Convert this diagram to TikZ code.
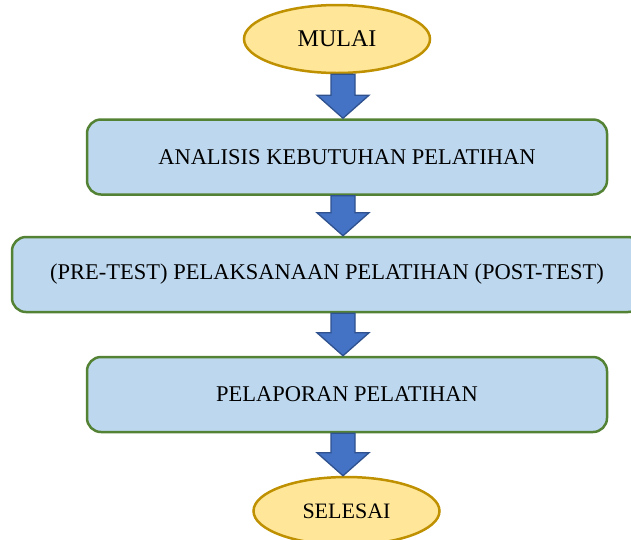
\documentclass[tikz,border=0pt]{standalone}
\usepackage{fontspec}
\setmainfont{Liberation Serif}
\usepackage{tikz}
\usetikzlibrary{shapes.geometric}
\usetikzlibrary{calc}
\definecolor{kuning}{HTML}{FFE699}
\definecolor{emas}{HTML}{BF9000}
\definecolor{biru}{HTML}{BDD7EE}
\definecolor{hijau}{HTML}{548235}
\definecolor{panahisi}{HTML}{4472C4}
\definecolor{panahtepi}{HTML}{2F528F}
\tikzset{mulaiselesai/.style = {ellipse, draw=emas, fill=kuning, line width=2.5pt,
                                minimum width=186pt, minimum height=68pt, inner sep=0pt,
                                font=\fontsize{22}{24}\selectfont},
         kotak/.style = {rectangle, rounded corners=14pt, draw=hijau, fill=biru,
                         line width=2.5pt, minimum height=75pt, inner sep=0pt,
                         font=\fontsize{22.5}{25}\selectfont},
         panah/.style = {draw=panahtepi, fill=panahisi, line width=1.3pt, line join=miter}}
\newcommand{\panah}[2]{%
  \draw [panah] let \p1 = (#1.south), \p2 = (#2.north), \p3 = (sumbu) in
    (\x3-12pt, \y1) -- (\x3+12pt, \y1) -- (\x3+12pt, \y2+23pt) -- (\x3+26pt, \y2+23pt)
    -- (\x3, \y2) -- (\x3-26pt, \y2+23pt) -- (\x3-12pt, \y2+23pt) -- cycle;}

\begin{document}
\begin{tikzpicture}[x=1pt, y=-1pt]
      \useasboundingbox (0, 0) rectangle (631, 539);
      \coordinate (sumbu) at (343, 0);
      \node [mulaiselesai, font=\fontsize{24}{26}\selectfont] (mulai) at (337, 39) {MULAI};
      \node [kotak, minimum width=520pt] (analisis) at (347, 157) {ANALISIS KEBUTUHAN PELATIHAN};
      \node [kotak, minimum width=630pt] (pelaksanaan) at (327, 274.5) {(PRE-TEST) PELAKSANAAN PELATIHAN (POST-TEST)};
      \node [kotak, minimum width=520pt] (pelaporan) at (347, 394.5) {PELAPORAN PELATIHAN};
      \node [mulaiselesai] (selesai) at (346.5, 511) {SELESAI};
      \panah{mulai}{analisis}
      \panah{analisis}{pelaksanaan}
      \panah{pelaksanaan}{pelaporan}
      \panah{pelaporan}{selesai}
    \end{tikzpicture}
\end{document}
